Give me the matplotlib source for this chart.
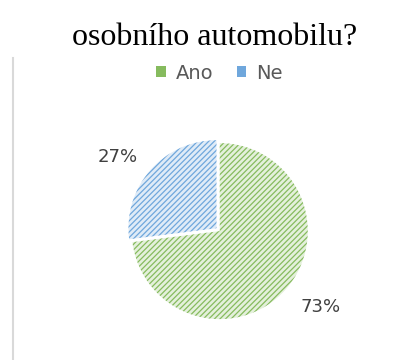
import matplotlib.pyplot as plt
from matplotlib.patches import Patch
from matplotlib.lines import Line2D

# answers to the survey question
labels = ['Ano', 'Ne']
shares = [73, 27]

face_colors = ['#e4f0db', '#dfebf7']
hatch_colors = ['#86bb5e', '#6fa7dc']

plt.rcParams['hatch.linewidth'] = 0.9

fig = plt.figure(figsize=(4.14, 3.6), dpi=100)
fig.patch.set_facecolor('white')

# thin grey frame line on the left
fig.add_artist(Line2D([0.032, 0.032], [0.0, 0.84], color='#d9d9d9', linewidth=1.5))

fig.text(0.518, 0.875, 'osobního automobilu?', ha='center', va='baseline',
         fontsize=23, family='Liberation Serif', color='black')

# pie axes: radius ~88 px, centred at (220, 231) px
ax = fig.add_axes([0.297, 0.089, 0.4676, 0.538])
ax.set_aspect('equal')

wedges, _ = ax.pie(shares, startangle=90, counterclock=False,
                   explode=[0, 0.05], colors=face_colors,
                   wedgeprops=dict(linewidth=0))
for w, hc in zip(wedges, hatch_colors):
    w.set_hatch('//////')
    w.set_edgecolor(hc)

# percentage labels outside the slices
ax.text(1.14, -0.86, f'{shares[0]}%', ha='center', va='center', fontsize=13, color='#404040')
ax.text(-1.16, 0.84, f'{shares[1]}%', ha='center', va='center', fontsize=13, color='#404040')
ax.set_xlim(-1.1, 1.1)
ax.set_ylim(-1.1, 1.1)

handles = [Patch(facecolor=hatch_colors[i], edgecolor=hatch_colors[i], linewidth=0,
                 label=labels[i]) for i in range(2)]
fig.legend(handles=handles, loc='center', bbox_to_anchor=(0.53, 0.797), ncol=2,
           frameon=False, fontsize=14, labelcolor='#595959',
           handlelength=0.5, handleheight=0.5, handletextpad=0.5, columnspacing=1.2)

fig.savefig('out.png', dpi=100)
